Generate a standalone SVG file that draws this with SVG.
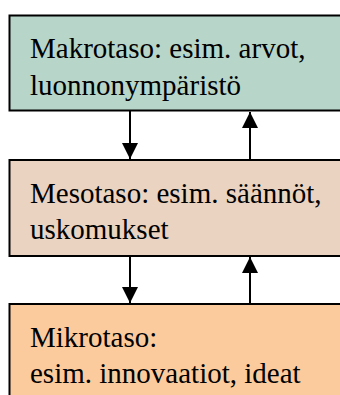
<svg xmlns="http://www.w3.org/2000/svg" width="340" height="395" viewBox="0 0 340 395">
<style>
.box{stroke:#000;stroke-width:2}
.t{font-family:"Liberation Serif","Times New Roman",serif;font-size:29px;fill:#000}
.c{stroke:#000;stroke-width:2;fill:none}
</style>
<defs>
<marker id="ah" markerWidth="16" markerHeight="16" viewBox="0 0 16 16" refX="16" refY="8" orient="auto" markerUnits="userSpaceOnUse">
<path d="M0,0 L16,8 L0,16 Z" fill="#000"/>
</marker>
</defs>
<rect width="340" height="395" fill="#fff"/>
<g id="makro">
<rect class="box" x="9.5" y="15.5" width="340" height="95" fill="#b7d5c8"/>
<text class="t" x="30" y="58">Makrotaso: esim. arvot,</text>
<text class="t" x="30" y="95">luonnonympäristö</text>
</g>
<g id="meso">
<rect class="box" x="9.5" y="160" width="340" height="96" fill="#ead3c1"/>
<text class="t" x="30" y="203">Mesotaso: esim. säännöt,</text>
<text class="t" x="30" y="239">uskomukset</text>
</g>
<g id="mikro">
<rect class="box" x="9.5" y="304" width="340" height="100" fill="#fbcb9e"/>
<text class="t" x="30" y="347">Mikrotaso:</text>
<text class="t" x="30" y="383">esim. innovaatiot, ideat</text>
</g>
<g id="connectors">
<line class="c" x1="130" y1="111" x2="130" y2="159" marker-end="url(#ah)"/>
<line class="c" x1="250" y1="160" x2="250" y2="112" marker-end="url(#ah)"/>
<line class="c" x1="130" y1="256" x2="130" y2="303" marker-end="url(#ah)"/>
<line class="c" x1="250" y1="304" x2="250" y2="257" marker-end="url(#ah)"/>
</g>
</svg>
